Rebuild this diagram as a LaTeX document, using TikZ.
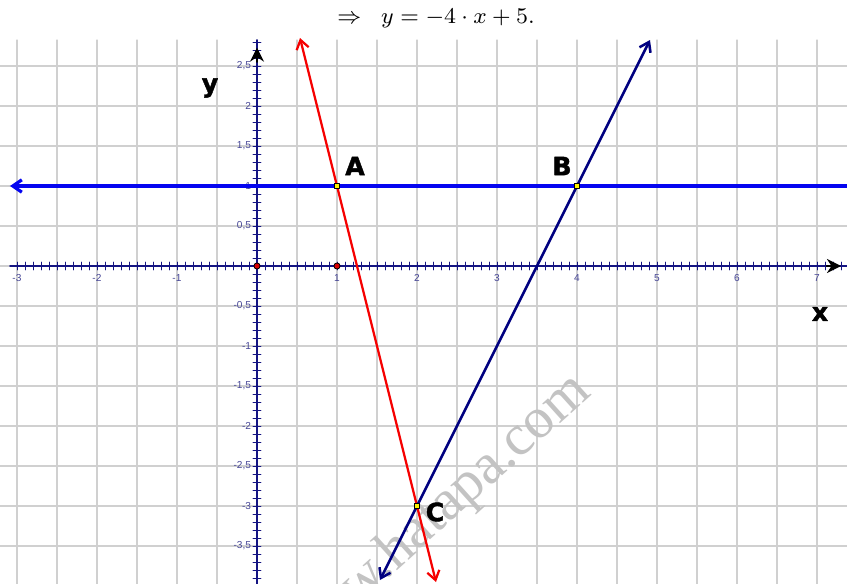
\documentclass[tikz,border=0pt]{standalone}
\usepackage{fontspec}
\setsansfont{DejaVu Sans}
\newfontfamily\ticklabelfont{Liberation Sans}
\newfontfamily\watermarkfont{Liberation Serif}
\newfontfamily\ptlabelfont[FakeBold=1.6]{DejaVu Sans Bold}
\usetikzlibrary{arrows.meta}

\begin{document}
\begin{tikzpicture}[x=1cm,y=1cm,line cap=round,line join=round]
\definecolor{gridgray}{RGB}{208,208,208}
\definecolor{axisnavy}{RGB}{20,20,130}
\definecolor{ticknavy}{RGB}{70,70,150}
\definecolor{linenavy}{RGB}{0,0,128}
\definecolor{lineblue}{RGB}{5,5,240}
\definecolor{linered}{RGB}{245,0,0}
\definecolor{markgray}{RGB}{195,195,195}

\tikzset{
  ticklbl/.style={font=\ticklabelfont\fontsize{3.6}{4}\selectfont, text=ticknavy, inner sep=0.5pt},
  ptlabel/.style={font=\ptlabelfont\fontsize{9}{10}\selectfont, inner sep=0pt},
  ptbox/.style={draw=black, fill=yellow, line width=0.3pt, minimum size=1.7pt, inner sep=0pt},
  origindot/.style={draw=black, fill=red!85!black, line width=0.3pt, circle, minimum size=2.2pt, inner sep=0pt},
  barb/.tip={Straight Barb[length=3.2pt,width=4.4pt]},
  axistip/.tip={Stealth[length=5pt,width=5pt]}
}

\useasboundingbox (-3.2125,-3.975) rectangle (7.375,3.325);
\clip (-3.2125,-3.975) rectangle (7.375,3.325);

% grid
\foreach \gx in {-3,-2.5,...,7}
  \draw[gridgray, line width=0.4pt] (\gx,-3.975) -- (\gx,2.825);
\foreach \gy in {-3.5,-3,...,2.5}
  \draw[gridgray, line width=0.4pt] (-3.2125,\gy) -- (7.375,\gy);

% watermark
\node[font=\watermarkfont\fontsize{20.5}{24}\selectfont, text=markgray, rotate=42, anchor=base east, inner sep=0pt]
  (wmark) at (4.2,-1.6) {www.hatapa.com};

% axes
\draw[axisnavy, line width=0.7pt] (-3.0875,0) -- (7.375,0);
\draw[axisnavy, line width=0.7pt] (0,-3.975) -- (0,2.825);
\foreach \t in {-30,...,73}
  \draw[axisnavy, line width=0.35pt] (\t/10,-0.05) -- (\t/10,0.05);
\foreach \t in {-39,...,28}
  \draw[axisnavy, line width=0.35pt] (-0.05,\t/10) -- (0.05,\t/10);

\foreach \n in {-3,-2,-1,1,2,3,4,5,6,7}
  \node[ticklbl] (xl\n) at (\n,-0.15) {\n};
\foreach \v/\s in {2.5/{2,5},2/2,1.5/{1,5},1/1,0.5/{0,5},-0.5/{-0,5},-1/-1,-1.5/{-1,5},-2/-2,-2.5/{-2,5},-3/-3,-3.5/{-3,5}}
  \node[ticklbl, anchor=east] (yl\v) at (-0.05,\v) {\s};

\coordinate (xtail) at (7.12,0);
\coordinate (xhead) at (7.3,0);
\coordinate (ytail) at (0,2.55);
\coordinate (yhead) at (0,2.73);
\draw[black, line width=0.7pt, -{axistip}] (xtail) -- (xhead);
\draw[black, line width=0.7pt, -{axistip}] (ytail) -- (yhead);

\node[ptlabel] (xname) at (7.0375,-0.6) {x};
\node[ptlabel] (yname) at (-0.5875,2.225) {y};

% lines
\coordinate (blueleft) at (-3.0875,1);
\coordinate (blueright) at (7.375,1);
\coordinate (redtop) at (0.5375,2.85);
\coordinate (redbot) at (2.2375,-3.95);
\coordinate (navytop) at (4.9125,2.825);
\coordinate (navybot) at (1.5375,-3.925);

\draw[lineblue, line width=1.15pt, {barb}-] (blueleft) -- (blueright);
\draw[linered, line width=0.8pt, {barb}-{barb}] (redtop) -- (redbot);
\draw[linenavy, line width=0.9pt, {barb}-{barb}] (navytop) -- (navybot);

% points
\node[origindot] (O) at (0,0) {};
\node[origindot] (U) at (1,0) {};
\node[ptbox] (A) at (1,1) {};
\node[ptbox] (B) at (4,1) {};
\node[ptbox] (C) at (2,-3) {};

\node[ptlabel] (labA) at (1.225,1.25) {A};
\node[ptlabel] (labB) at (3.8125,1.25) {B};
\node[ptlabel] (labC) at (2.225,-3.075) {C};

% title
\node[font=\fontsize{8.1}{10}\selectfont, inner sep=0pt] (title) at (2.2375,3.09)
  {$\Rightarrow\;\; y=-4\cdot x+5.$};
\end{tikzpicture}
\end{document}
